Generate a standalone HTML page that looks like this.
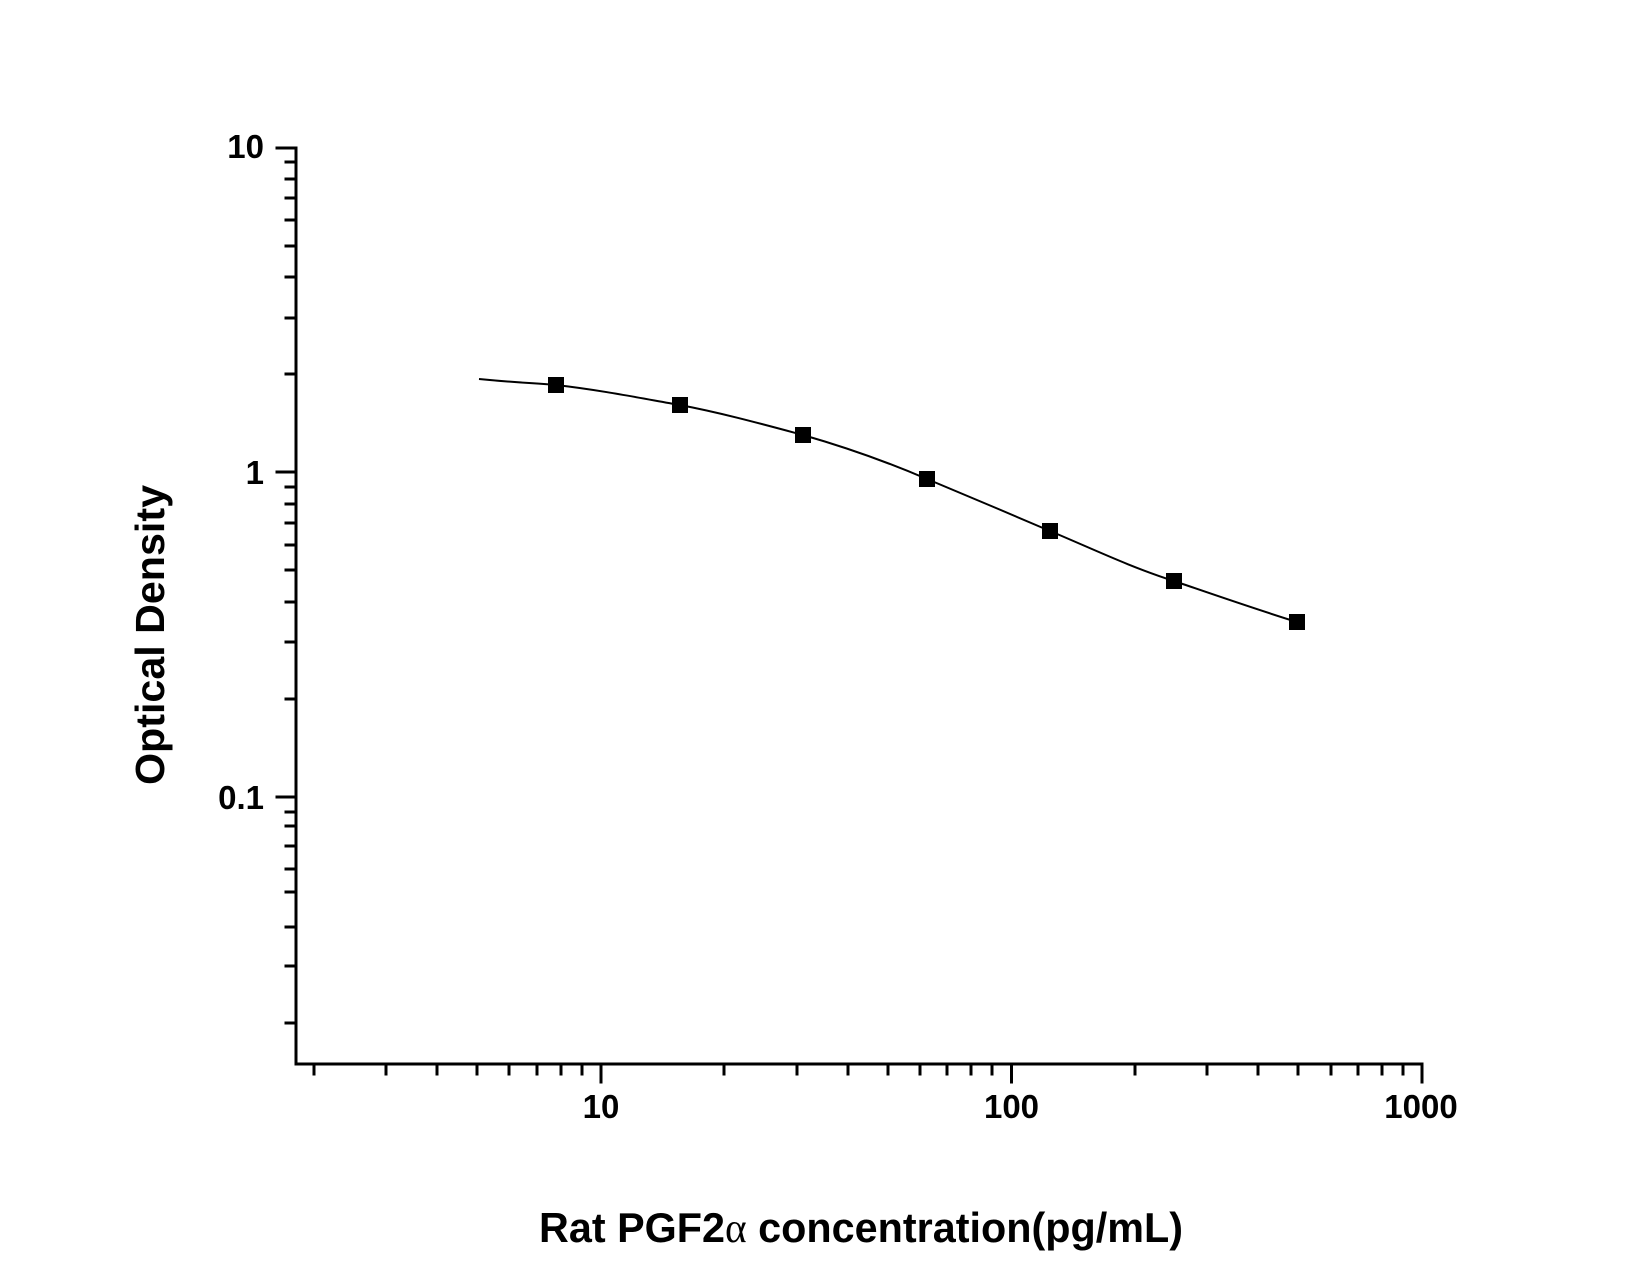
<!DOCTYPE html>
<html><head><meta charset="utf-8"><style>html,body{margin:0;padding:0;background:#fff}</style></head>
<body>
<svg width="1650" height="1275" viewBox="0 0 1650 1275" xmlns="http://www.w3.org/2000/svg">
<rect width="1650" height="1275" fill="#fff"/>
<g stroke="#000" stroke-width="3" fill="none" stroke-linecap="square">
<path d="M296,148 V1064 H1422"/>
<path d="M277,148 H296 M277,472 H296 M277,797 H296"/>
<path d="M286,1023 H296 M286,966 H296 M286,927 H296 M286,892 H296 M286,869 H296 M286,846 H296 M286,826 H296 M286,812 H296
M286,699 H296 M286,642 H296 M286,602 H296 M286,570 H296 M286,545 H296 M286,523 H296 M286,504 H296 M286,487 H296
M286,374 H296 M286,318 H296 M286,277 H296 M286,246 H296 M286,220 H296 M286,198 H296 M286,179 H296 M286,162 H296"/>
<path d="M601,1064 V1082 M1011.5,1064 V1082 M1422,1064 V1082"/>
<path d="M314,1064 V1074 M386,1064 V1074 M437,1064 V1074 M477,1064 V1074 M509,1064 V1074 M537,1064 V1074 M561,1064 V1074 M582,1064 V1074
M724,1064 V1074 M797,1064 V1074 M848,1064 V1074 M888,1064 V1074 M920,1064 V1074 M947,1064 V1074 M971,1064 V1074 M992,1064 V1074
M1135,1064 V1074 M1207,1064 V1074 M1258,1064 V1074 M1298,1064 V1074 M1331,1064 V1074 M1358,1064 V1074 M1382,1064 V1074 M1403,1064 V1074"/>
</g>
<g font-family="Liberation Sans, Arial, sans-serif" font-weight="bold" font-size="33" fill="#000">
<text x="264" y="158" text-anchor="end">10</text>
<text x="264" y="484" text-anchor="end">1</text>
<text x="264" y="809" text-anchor="end">0.1</text>
<text x="601" y="1118" text-anchor="middle">10</text>
<text x="1011.5" y="1118" text-anchor="middle">100</text>
<text x="1421" y="1118" text-anchor="middle">1000</text>
</g>
<text transform="translate(164,635) rotate(-90)" text-anchor="middle" textLength="300" lengthAdjust="spacingAndGlyphs" font-family="Liberation Sans, Arial, sans-serif" font-weight="bold" font-size="41">Optical Density</text>
<text x="539" y="1242" textLength="644" lengthAdjust="spacingAndGlyphs" font-family="Liberation Sans, Arial, sans-serif" font-weight="bold" font-size="42">Rat PGF2<tspan font-family="Liberation Serif, serif" font-weight="normal">α</tspan>   concentration(pg/mL)</text>
<path d="M479,379 C520,383 535,383 556,385 C600,390 640,398 680,405 C722,413 762,424 803,435 C845,447 885,461 927,479 C970,497 1008,513 1050,531 C1093,549 1130,567 1174,581 C1215,595 1255,609 1297,622" fill="none" stroke="#000" stroke-width="2"/>
<g fill="#000">
<rect x="548" y="377" width="16" height="16"/>
<rect x="672" y="397" width="16" height="16"/>
<rect x="795" y="427" width="16" height="16"/>
<rect x="919" y="471" width="16" height="16"/>
<rect x="1042" y="523" width="16" height="16"/>
<rect x="1166" y="573" width="16" height="16"/>
<rect x="1289" y="614" width="16" height="16"/>
</g>
</svg>
</body></html>
